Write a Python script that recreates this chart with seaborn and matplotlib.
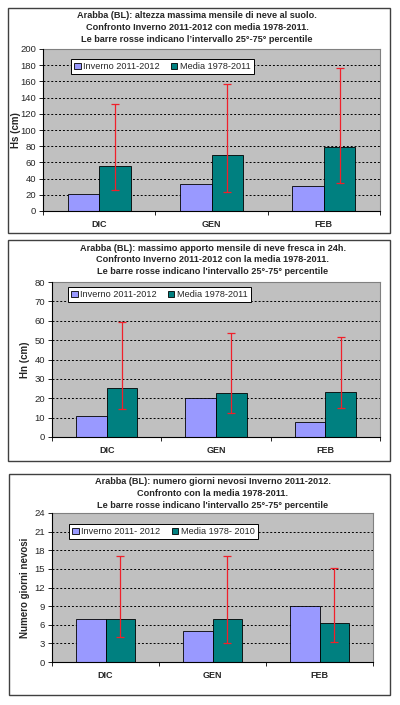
import matplotlib
matplotlib.use("Agg")
import matplotlib.pyplot as plt
from matplotlib.patches import Rectangle
from matplotlib.ticker import MultipleLocator, FixedLocator
import seaborn as sns
import pandas as pd
import numpy as np

sns.set_theme(style="white")
plt.rcParams['font.family'] = ['Liberation Sans', 'DejaVu Sans']

months = ["DIC", "GEN", "FEB"]

hs_inverno = [21, 33, 31]
hs_media = [56, 69, 79]
hs_p25 = [26, 24, 34]
hs_p75 = [132, 157, 176]

hn_inverno = [10.7, 20.0, 7.9]
hn_media = [25.5, 22.9, 23.1]
hn_p25 = [14.6, 12.6, 15.0]
hn_p75 = [59.6, 53.9, 51.6]

gg_inverno = [7, 5, 9]
gg_media = [7.0, 7.0, 6.25]
gg_p25 = [4, 3, 3.3]
gg_p75 = [17, 17, 15.2]

titles = [
    ["Arabba (BL): altezza massima mensile di neve al suolo.",
     "Confronto Inverno 2011-2012 con media 1978-2011.",
     "Le barre rosse indicano l\u2019intervallo 25°-75° percentile"],
    ["Arabba (BL): massimo apporto mensile di neve fresca in 24h.",
     "Confronto Inverno 2011-2012 con la media 1978-2011.",
     "Le barre rosse indicano l'intervallo 25°-75° percentile"],
    ["Arabba (BL): numero giorni nevosi Inverno 2011-2012.",
     "Confronto con la media 1978-2011.",
     "Le barre rosse indicano l'intervallo 25°-75° percentile"],
]
ylabels = ["Hs (cm)", "Hn (cm)", "Numero giorni nevosi"]
legend_labels = [
    ["Inverno 2011-2012", "Media 1978-2011"],
    ["Inverno 2011-2012", "Media 1978-2011"],
    ["Inverno 2011- 2012", "Media 1978- 2010"],
]
series = [
    (hs_inverno, hs_media, hs_p25, hs_p75, 200, 20),
    (hn_inverno, hn_media, hn_p25, hn_p75, 80, 10),
    (gg_inverno, gg_media, gg_p25, gg_p75, 24, 3),
]

W, H = 400, 705
fig = plt.figure(figsize=(W / 100, H / 100), dpi=100)
fig.patch.set_facecolor("white")

# panel boxes (pixels: x0, y0, x1, y1)
boxes = [(8, 8, 390, 233), (8, 240, 390, 461), (9, 474, 390, 695)]
# plot areas
areas = [(43, 49, 380, 211), (52, 282, 380, 437), (52, 513, 373, 662)]
title_y = [(16, 27, 40), (248, 260, 272), (481, 493, 506)]
title_x = [197, 213, 213]
ylabel_x = [16, 25, 25]
legend_pos = [(71, 59), (68, 287), (69, 524)]

for (bx0, by0, bx1, by1) in boxes:
    fig.patches.append(Rectangle((bx0 / W, 1 - by1 / H), (bx1 - bx0) / W, (by1 - by0) / H,
                                 transform=fig.transFigure, fill=False,
                                 edgecolor="#404040", linewidth=1.0))

col_inv = "#9999FF"
col_med = "#008080"

for i in range(3):
    inv, med, p25, p75, ymax, ystep = series[i]
    x0, y0, x1, y1 = areas[i]
    ax = fig.add_axes([x0 / W, 1 - y1 / H, (x1 - x0) / W, (y1 - y0) / H])
    ax.set_facecolor("#C0C0C0")
    lab_inv, lab_med = legend_labels[i]
    df = pd.DataFrame({
        "mese": months * 2,
        "valore": list(inv) + list(med),
        "serie": [lab_inv] * 3 + [lab_med] * 3,
    })
    sns.barplot(data=df, x="mese", y="valore", hue="serie", order=months,
                hue_order=[lab_inv, lab_med],
                palette={lab_inv: col_inv, lab_med: col_med}, saturation=1,
                width=0.56, gap=0, edgecolor="black", linewidth=0.6,
                errorbar=None, ax=ax, zorder=3)
    # error bars on media bars
    cont = ax.containers[1]
    xs = [p.get_x() + p.get_width() / 2 for p in cont.patches]
    med_arr = np.array(med, dtype=float)
    lo = med_arr - np.array(p25, dtype=float)
    hi = np.array(p75, dtype=float) - med_arr
    ax.errorbar(xs, med_arr, yerr=[lo, hi], fmt="none", ecolor="#F0202A",
                elinewidth=0.9, capsize=2.6, capthick=0.9, zorder=4)

    ax.set_xlim(-0.5, 2.5)
    ax.set_ylim(0, ymax)
    ax.yaxis.set_major_locator(MultipleLocator(ystep))
    ax.grid(axis="y", color="black", linestyle=(0, (2, 2)), linewidth=0.7, zorder=1)
    ax.grid(axis="x", visible=False)
    ax.set_axisbelow(True)
    for s in ["top", "right"]:
        ax.spines[s].set_color("#808080")
        ax.spines[s].set_linewidth(0.8)
    for s in ["left", "bottom"]:
        ax.spines[s].set_color("black")
        ax.spines[s].set_linewidth(0.8)
        ax.spines[s].set_zorder(5)
    ax.tick_params(axis="y", which="major", direction="out", length=3, width=0.6,
                   color="black", labelsize=6.8, pad=2, left=True)
    ax.tick_params(axis="x", which="major", length=0, labelsize=6.5, pad=6.5)
    ax.xaxis.set_minor_locator(FixedLocator([-0.5, 0.5, 1.5, 2.5]))
    ax.tick_params(axis="x", which="minor", direction="out", length=3, width=0.6,
                   color="black", bottom=True)
    for t in ax.get_xticklabels():
        t.set_fontweight("bold")
    ax.set_xlabel("")
    ax.set_ylabel("")
    fig.text(ylabel_x[i] / W, 1 - ((y0 + y1) / 2) / H, ylabels[i], rotation=90,
             ha="center", va="center", fontsize=7, fontweight="bold")
    for line, ty in zip(titles[i], title_y[i]):
        fig.text(title_x[i] / W, 1 - ty / H, line, ha="center", va="center",
                 fontsize=6.6, fontweight="bold")

    handles, labels = ax.get_legend_handles_labels()
    lx, ly = legend_pos[i]
    leg = ax.legend(handles, labels, ncol=2, loc="upper left",
                    bbox_to_anchor=((lx - x0) / (x1 - x0), (y1 - ly) / (y1 - y0)),
                    frameon=True, fancybox=False, framealpha=1, edgecolor="black",
                    fontsize=6.6, handlelength=0.7, handleheight=0.7,
                    handletextpad=0.3, columnspacing=1.2, borderpad=0.35,
                    borderaxespad=0)
    leg.get_frame().set_linewidth(0.7)
    leg.set_zorder(6)

fig.savefig("out.png", dpi=100, facecolor="white")
